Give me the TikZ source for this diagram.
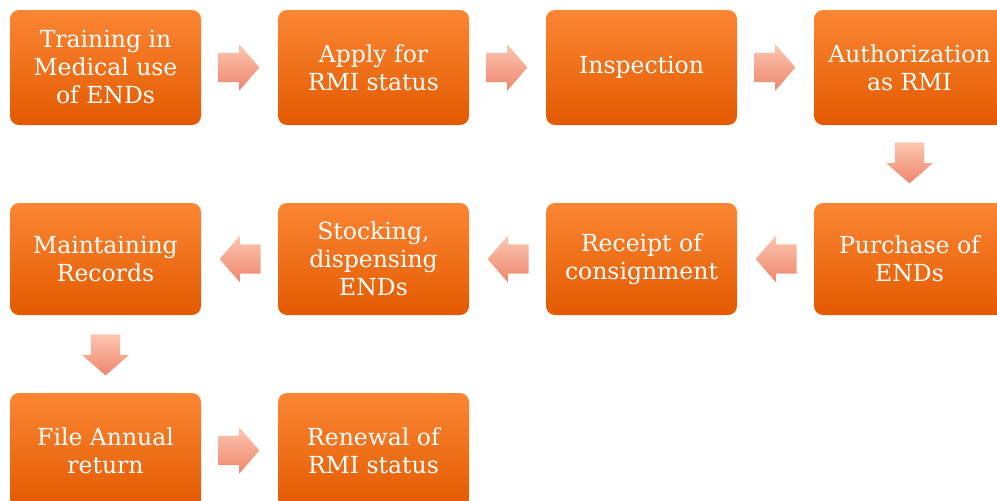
\documentclass[tikz,border=0pt]{standalone}
\usepackage{fontspec}
\setmainfont{DejaVu Serif}
\usetikzlibrary{shapes.arrows}
\definecolor{boxtop}{HTML}{FC8634}
\definecolor{boxbot}{HTML}{E35A00}
\definecolor{arrtop}{HTML}{FDC6B0}
\definecolor{arrbot}{HTML}{EE866C}
\begin{document}
\begin{tikzpicture}[x=1pt,y=1pt,
    stepbox/.style={rounded corners=9pt, top color=boxtop, bottom color=boxbot,
      text=white, align=center, inner sep=0pt, minimum width=191pt,
      minimum height=115pt, font=\fontsize{23.5}{28}\selectfont},
    flowarrow/.style={single arrow, draw=none, top color=arrtop, bottom color=arrbot,
      anchor=tail, inner xsep=0pt, inner ysep=14.5pt, minimum height=41pt,
      minimum width=46pt, single arrow head extend=8.5pt,
      single arrow head indent=0pt, single arrow tip angle=98},
    downarrow/.style={flowarrow, shape border rotate=270, inner xsep=14.5pt,
      inner ysep=0pt}]
  \useasboundingbox (0,0) rectangle (997,-501);
  \clip (0,0) rectangle (997,-501);
  % first row
  \node[stepbox] (training) at (105.5,-67.5) {Training in\\Medical use\\of ENDs};
  \node[stepbox] (apply) at (373.5,-67.5) {Apply for\\RMI status};
  \node[stepbox] (inspect) at (641.5,-67.5) {Inspection};
  \node[stepbox] (authorize) at (909.5,-67.5) {Authorization\\as RMI};
  % second row
  \node[stepbox, minimum height=112pt] (purchase) at (909.5,-259) {Purchase of\\ENDs};
  \node[stepbox, minimum height=112pt] (receipt) at (641.5,-259) {Receipt of\\consignment};
  \node[stepbox, minimum height=112pt] (stocking) at (373.5,-259) {Stocking,\\dispensing\\ENDs};
  \node[stepbox, minimum height=112pt] (records) at (105.5,-259) {Maintaining\\Records};
  % third row
  \node[stepbox] (annual) at (105.5,-450.5) {File Annual\\return};
  \node[stepbox] (renewal) at (373.5,-450.5) {Renewal of\\RMI status};
  % arrows
  \node[flowarrow] (a1) at ([xshift=17pt]training.east) {};
  \node[flowarrow] (a2) at ([xshift=17pt]apply.east) {};
  \node[flowarrow] (a3) at ([xshift=17pt]inspect.east) {};
  \node[downarrow] (a4) at ([yshift=-17pt]authorize.south) {};
  \node[flowarrow, shape border rotate=180] (a5) at ([xshift=-17pt]purchase.west) {};
  \node[flowarrow, shape border rotate=180] (a6) at ([xshift=-17pt]receipt.west) {};
  \node[flowarrow, shape border rotate=180] (a7) at ([xshift=-17pt]stocking.west) {};
  \node[downarrow] (a8) at ([yshift=-19pt]records.south) {};
  \node[flowarrow] (a9) at ([xshift=17pt]annual.east) {};
\end{tikzpicture}
\end{document}
